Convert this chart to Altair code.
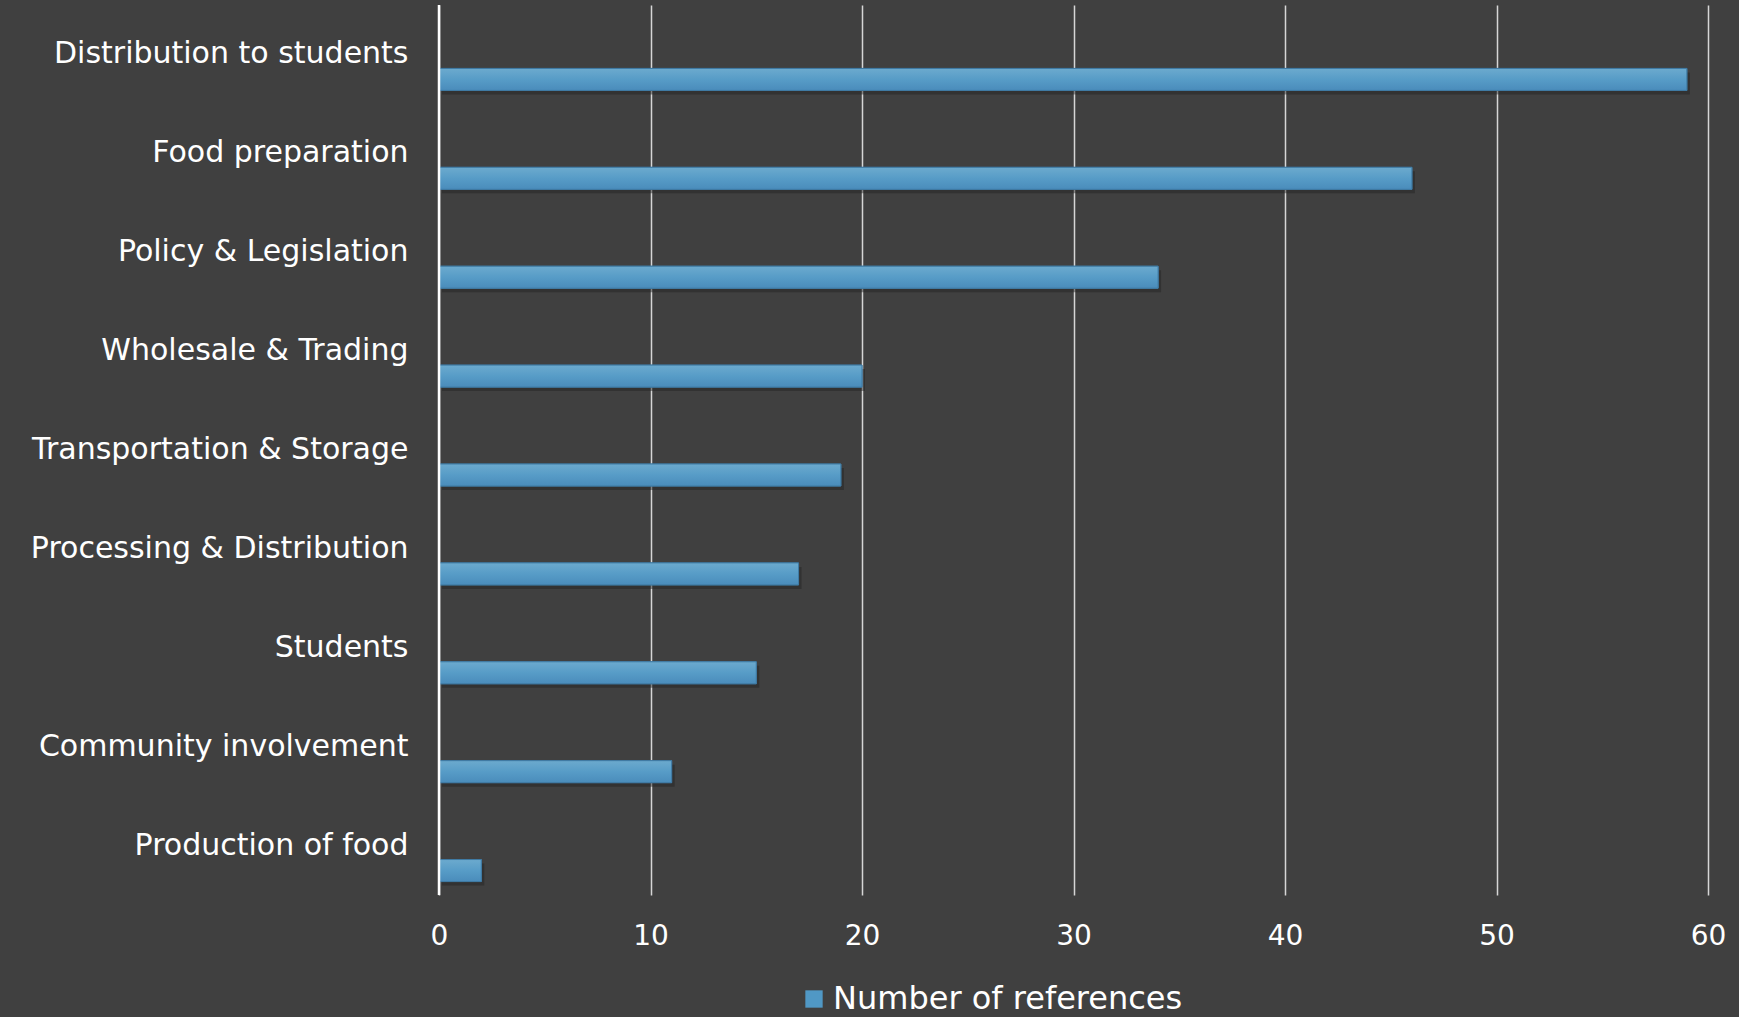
import altair as alt
import pandas as pd

categories = [
    "Distribution to students",
    "Food preparation",
    "Policy & Legislation",
    "Wholesale & Trading",
    "Transportation & Storage",
    "Processing & Distribution",
    "Students",
    "Community involvement",
    "Production of food",
]
values = [59, 46, 34, 20, 19, 17, 15, 11, 2]
series_name = "Number of references"
x_ticks = [0, 10, 20, 30, 40, 50, 60]

df = pd.DataFrame({"category": categories, "value": values, "series": [series_name] * len(values)})

FONT = "DejaVu Sans"
BG = "#404040"
BAR_H = 22
Y_OFF = 25

y_enc = alt.Y("category:N", sort=categories, title=None,
              scale=alt.Scale(paddingInner=0, paddingOuter=0),
              axis=alt.Axis(ticks=False, domain=False, grid=False, labelPadding=31,
                            labelFontSize=30, labelColor="#ffffff", labelFont=FONT,
                            labelAlign="right", labelLimit=0))
x_enc = alt.X("value:Q", title=None,
              scale=alt.Scale(domain=[0, 60], nice=False),
              axis=alt.Axis(values=x_ticks, ticks=False, domain=False, grid=True,
                            gridColor="#d6d6d6", gridWidth=1.5, labelPadding=27,
                            labelFontSize=28, labelColor="#ffffff", labelFont=FONT,
                            labelFlush=False))

base = alt.Chart(df)

shadow = base.mark_bar(height=BAR_H, yOffset=Y_OFF + 4, xOffset=3, color="#222222",
                       opacity=0.45).encode(x=x_enc, y=y_enc)

flat = base.mark_bar(height=BAR_H, yOffset=Y_OFF, stroke="#3f7aa3", strokeWidth=1).encode(
    x=x_enc, y=y_enc,
    color=alt.Color("series:N", title=None,
                    scale=alt.Scale(range=["#5098c5"]),
                    legend=alt.Legend(orient="none", legendX=359, legendY=978,
                                      symbolType="square", symbolSize=300,
                                      symbolStrokeWidth=0, labelLimit=0,
                                      labelFontSize=32, labelColor="#ffffff",
                                      labelFont=FONT, labelOffset=3)),
)

grad = base.mark_bar(
    height=BAR_H, yOffset=Y_OFF, stroke="#3f7aa3", strokeWidth=1,
    color=alt.Gradient(gradient="linear", x1=0, y1=0, x2=0, y2=1,
                       stops=[alt.GradientStop(offset=0, color="#6caace"),
                              alt.GradientStop(offset=0.5, color="#579cc7"),
                              alt.GradientStop(offset=1, color="#4a8cbb")]),
).encode(x=x_enc, y=y_enc)

zero_line = alt.Chart(pd.DataFrame({"value": [0]})).mark_rule(color="#ffffff", strokeWidth=2.5).encode(
    x=x_enc)

chart = alt.layer(shadow, flat, grad, zero_line).properties(
    width=1269, height=890,
    background=BG,
    padding={"left": 439, "top": 5, "right": 31, "bottom": 122},
    autosize=alt.AutoSizeParams(type="none"),
).configure_view(stroke=None).configure_axis(labelFont=FONT)

chart.save("out.html", embed_options={"renderer": "svg", "actions": False})
